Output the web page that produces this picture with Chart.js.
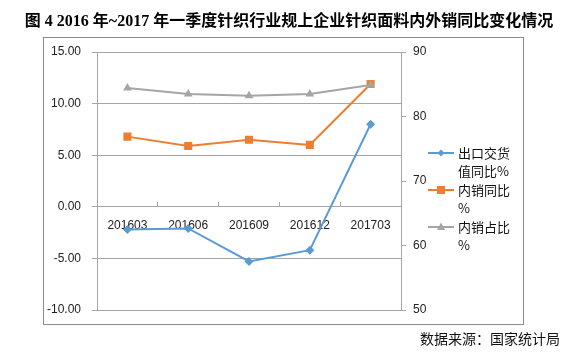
<!DOCTYPE html>
<html>
<head>
<meta charset="utf-8">
<script src="https://cdn.jsdelivr.net/npm/chart.js@4"></script>
<style>
html, body { margin: 0; padding: 0; background: #fff; }
#wrap { width: 578px; height: 354px; }
</style>
</head>
<body>
<div id="wrap"><canvas id="chart"></canvas></div>
<script>
// data
var quarters = ['201603', '201606', '201609', '201612', '201703'];
var exportYoY = [-2.2, -2.1, -5.3, -4.2, 8.0];        // 出口交货值同比%
var domesticYoY = [6.8, 5.9, 6.5, 6.0, 11.9];         // 内销同比%
var domesticShare = [84.4, 83.5, 83.2, 83.5, 84.9];   // 内销占比% (right axis)
var seriesNames = [['出口交货', '值同比%'], ['内销同比', '%'], ['内销占比', '%']];
var titleText = '图 4 2016 年~2017 年一季度针织行业规上企业针织面料内外销同比变化情况';
var sourceText = '数据来源：国家统计局';

var tickFont = { family: "'Liberation Sans', Arial, sans-serif", size: 12 };
var gridColor = '#a6a6a6';

// frame, title, source and the wrapped legend
var decorPlugin = {
    id: 'decor',
    beforeDraw: function (chart) {
        var ctx = chart.ctx;
        ctx.save();
        ctx.fillStyle = '#fff';
        ctx.fillRect(0, 0, chart.width, chart.height);
        ctx.strokeStyle = '#8c8c8c';
        ctx.lineWidth = 1;
        ctx.strokeRect(43.5, 37.5, 480, 287);
        ctx.restore();
    },
    afterDraw: function (chart) {
        var ctx = chart.ctx;
        ctx.save();
        ctx.fillStyle = '#000';
        ctx.textBaseline = 'middle';
        ctx.textAlign = 'center';
        ctx.font = "bold 16px 'Liberation Serif', 'Noto Sans CJK SC', serif";
        ctx.fillText(titleText, 289, 22);

        ctx.textAlign = 'left';
        ctx.font = "14px 'Noto Sans CJK SC', sans-serif";
        ctx.fillStyle = '#111';
        ctx.fillText(sourceText, 420, 339);

        // legend
        chart.data.datasets.forEach(function (ds, i) {
            var y = 153 + i * 37;
            ctx.strokeStyle = ds.borderColor;
            ctx.lineWidth = 2;
            ctx.beginPath();
            ctx.moveTo(428, y);
            ctx.lineTo(454, y);
            ctx.stroke();
            ctx.fillStyle = ds.borderColor;
            ctx.beginPath();
            if (ds.pointStyle === 'rectRot') {
                ctx.moveTo(441, y - 3.5); ctx.lineTo(444.5, y); ctx.lineTo(441, y + 3.5); ctx.lineTo(437.5, y);
            } else if (ds.pointStyle === 'rect') {
                ctx.rect(437, y - 4, 8, 8);
            } else {
                ctx.moveTo(441, y - 4.5); ctx.lineTo(445, y + 3); ctx.lineTo(437, y + 3);
            }
            ctx.closePath();
            ctx.fill();

            ctx.fillStyle = '#111';
            ctx.font = "13px 'Noto Sans CJK SC', sans-serif";
            ctx.fillText(seriesNames[i][0], 458, y);
            ctx.fillText(seriesNames[i][1], 458, y + 18);
        });
        ctx.restore();
    }
};

new Chart(document.getElementById('chart').getContext('2d'), {
    type: 'line',
    data: {
        labels: quarters,
        datasets: [{
            label: seriesNames[0].join(''),
            data: exportYoY,
            yAxisID: 'y',
            borderColor: '#5b9bd5',
            backgroundColor: '#5b9bd5',
            borderWidth: 2,
            pointStyle: 'rectRot',
            pointRadius: 4.5,
            pointBorderWidth: 0,
            tension: 0,
            order: 3
        }, {
            label: seriesNames[1].join(''),
            data: domesticYoY,
            yAxisID: 'y',
            borderColor: '#ed7d31',
            backgroundColor: '#ed7d31',
            borderWidth: 2,
            pointStyle: 'rect',
            pointRadius: 5.7,
            pointBorderWidth: 0,
            tension: 0,
            order: 2
        }, {
            label: seriesNames[2].join(''),
            data: domesticShare,
            yAxisID: 'y1',
            borderColor: '#a5a5a5',
            backgroundColor: '#a5a5a5',
            borderWidth: 2,
            pointStyle: 'triangle',
            pointRadius: 5,
            pointBorderWidth: 0,
            tension: 0,
            order: 1
        }]
    },
    options: {
        responsive: true,
        maintainAspectRatio: false,
        animation: false,
        layout: {
            padding: { left: 43, top: 52, right: 147, bottom: 44 }
        },
        plugins: {
            legend: { display: false },
            title: { display: false },
            tooltip: { enabled: false }
        },
        scales: {
            x: {
                position: { y: 0 },
                offset: true,
                border: { display: false },
                grid: {
                    offset: true,
                    drawOnChartArea: false,
                    drawTicks: true,
                    tickLength: -5,
                    color: gridColor
                },
                ticks: {
                    font: tickFont,
                    color: '#222',
                    padding: 17,
                    maxRotation: 0,
                    autoSkip: false
                }
            },
            y: {
                position: 'left',
                min: -10,
                max: 15,
                afterFit: function (scale) { scale.width = 54; },
                border: { display: true, color: gridColor },
                grid: { color: gridColor, tickLength: 5 },
                ticks: {
                    stepSize: 5,
                    font: tickFont,
                    color: '#222',
                    padding: 11,
                    callback: function (v) { return v.toFixed(2); }
                }
            },
            y1: {
                position: 'right',
                min: 50,
                max: 90,
                afterFit: function (scale) { scale.width = 30; },
                border: { display: true, color: gridColor },
                grid: { drawOnChartArea: false, color: gridColor, tickLength: 5 },
                ticks: {
                    stepSize: 10,
                    font: tickFont,
                    color: '#222',
                    padding: 7
                }
            }
        }
    },
    plugins: [decorPlugin]
});
</script>
</body>
</html>
